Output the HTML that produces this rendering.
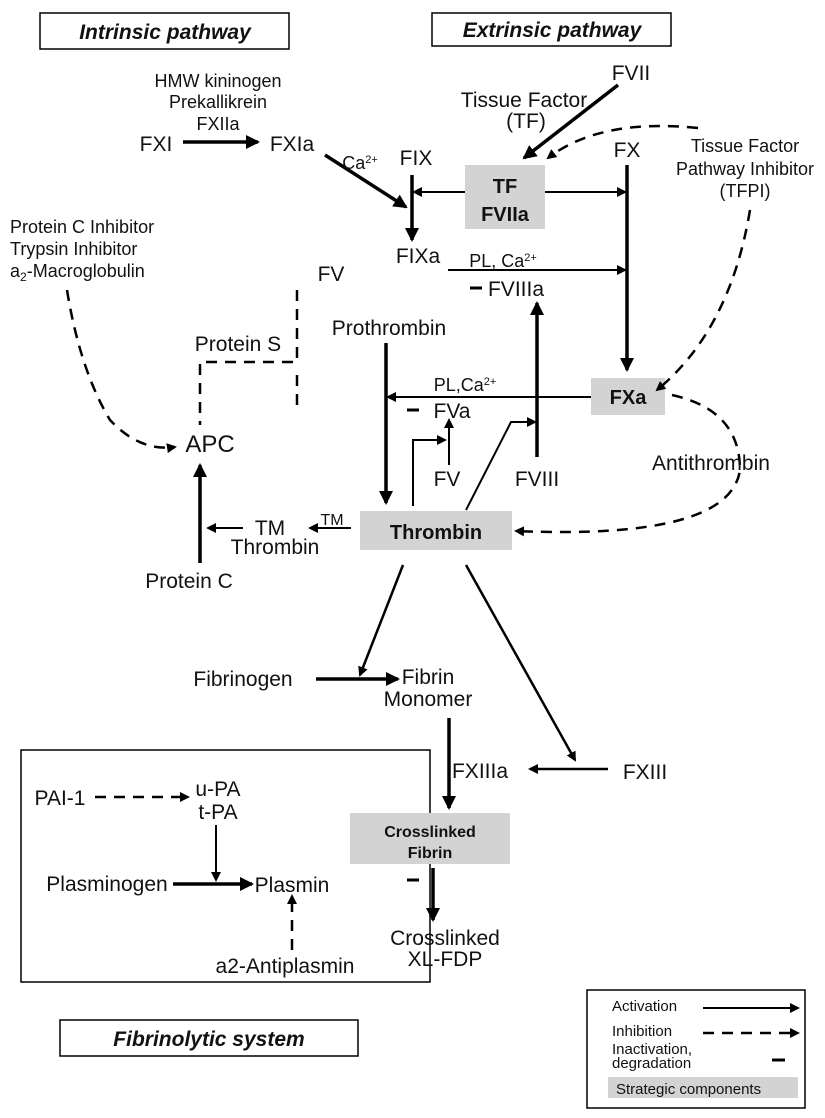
<!DOCTYPE html>
<html><head><meta charset="utf-8"><style>
html,body{margin:0;padding:0;background:#fff}
svg{display:block}
text{font-family:"Liberation Sans",Arial,sans-serif;fill:#111}
</style></head><body>
<svg width="825" height="1118" viewBox="0 0 825 1118" xmlns="http://www.w3.org/2000/svg">
<defs>
<marker id="a" markerWidth="10" markerHeight="10" refX="8" refY="5" orient="auto" markerUnits="userSpaceOnUse"><path d="M0,0 L10,5 L0,10 z" fill="#000"/></marker>
<marker id="b" markerWidth="14" markerHeight="14" refX="12" refY="7" orient="auto" markerUnits="userSpaceOnUse"><path d="M0,0 L14,7 L0,14 z" fill="#000"/></marker>
</defs>
<g fill="none" stroke="#000">
<rect x="40" y="13" width="249" height="36" stroke-width="1.5"/>
<rect x="432" y="13" width="239" height="33" stroke-width="1.5"/>
<rect x="21" y="750" width="409" height="232" stroke-width="1.5"/>
<rect x="60" y="1020" width="298" height="36" stroke-width="1.5"/>
<rect x="587" y="990" width="218" height="118" stroke-width="1.5"/>
</g>
<g fill="#d3d3d3">
<rect x="465" y="165" width="80" height="64"/>
<rect x="591" y="378" width="74" height="37"/>
<rect x="360" y="511" width="152" height="39"/>
<rect x="350" y="813" width="160" height="51"/>
<rect x="608" y="1077" width="190" height="21"/>
</g>
<g font-style="italic" font-weight="bold" font-size="21" text-anchor="middle">
<text x="165" y="39">Intrinsic pathway</text>
<text x="552" y="37">Extrinsic pathway</text>
<text x="209" y="1046">Fibrinolytic system</text>
</g>
<g fill="none" stroke="#000" stroke-width="3.5">
<line x1="618" y1="85" x2="524" y2="158" marker-end="url(#b)"/>
<line x1="627" y1="165" x2="627" y2="370" marker-end="url(#b)"/>
<line x1="412" y1="175" x2="412" y2="240" marker-end="url(#b)"/>
<line x1="183" y1="142" x2="258" y2="142" marker-end="url(#b)"/>
<line x1="325" y1="155" x2="406" y2="207" marker-end="url(#b)"/>
<line x1="537" y1="457" x2="537" y2="303" marker-end="url(#b)"/>
<line x1="386" y1="343" x2="386" y2="503" marker-end="url(#b)"/>
<line x1="200" y1="563" x2="200" y2="465" marker-end="url(#b)"/>
<line x1="316" y1="679" x2="398" y2="679" marker-end="url(#b)"/>
<line x1="449" y1="718" x2="449" y2="808" marker-end="url(#b)"/>
<line x1="433" y1="868" x2="433" y2="920" marker-end="url(#b)"/>
<line x1="173" y1="884" x2="252" y2="884" marker-end="url(#b)"/>
</g>
<g fill="none" stroke="#000" stroke-width="2">
<line x1="465" y1="192" x2="414" y2="192" marker-end="url(#a)"/>
<line x1="545" y1="192" x2="625" y2="192" marker-end="url(#a)"/>
<line x1="448" y1="270" x2="625" y2="270" marker-end="url(#a)"/>
<line x1="591" y1="397" x2="388" y2="397" marker-end="url(#a)"/>
<polyline points="413,506 413,440 445,440" marker-end="url(#a)"/>
<line x1="449" y1="465" x2="449" y2="420" marker-end="url(#a)"/>
<polyline points="466,510 511,422 535,422" marker-end="url(#a)"/>
<line x1="351" y1="528" x2="310" y2="528" marker-end="url(#a)"/>
<line x1="243" y1="528" x2="208" y2="528" marker-end="url(#a)"/>
<line x1="403" y1="565" x2="360" y2="675" stroke-width="2.5" marker-end="url(#a)"/>
<line x1="466" y1="565" x2="575" y2="760" stroke-width="2.5" marker-end="url(#a)"/>
<line x1="608" y1="769" x2="530" y2="769" stroke-width="2.5" marker-end="url(#a)"/>
<line x1="216" y1="825" x2="216" y2="880" marker-end="url(#a)"/>
<line x1="703" y1="1008" x2="798" y2="1008" marker-end="url(#a)"/>
</g>
<g fill="none" stroke="#000" stroke-width="2.5" stroke-dasharray="11,8">
<path d="M698,128 Q600,118 548,158" marker-end="url(#a)"/>
<path d="M750,210 Q730,330 657,390" marker-end="url(#a)"/>
<path d="M672,395 Q740,410 740,470 Q730,540 516,531" marker-end="url(#a)"/>
<path d="M67,290 Q80,370 110,420 Q140,452 175,447" marker-end="url(#a)"/>
<polyline points="297,290 297,362 200,362 200,425"/>
<line x1="297" y1="375" x2="297" y2="412"/>
<line x1="95" y1="797" x2="188" y2="797" marker-end="url(#a)"/>
<line x1="292" y1="950" x2="292" y2="896" marker-end="url(#a)"/>
<line x1="703" y1="1033" x2="798" y2="1033" marker-end="url(#a)"/>
</g>
<g stroke="#000" stroke-width="3">
<line x1="470" y1="288" x2="482" y2="288"/>
<line x1="407" y1="410" x2="419" y2="410"/>
<line x1="407" y1="880" x2="419" y2="880"/>
<line x1="772" y1="1060" x2="785" y2="1060"/>
</g>
<g font-size="21" text-anchor="middle">
<text x="631" y="80">FVII</text>
<text x="156" y="151">FXI</text>
<text x="292" y="151">FXIa</text>
<text x="416" y="165">FIX</text>
<text x="627" y="157">FX</text>
<text x="418" y="263">FIXa</text>
<text x="516" y="296">FVIIIa</text>
<text x="331" y="281">FV</text>
<text x="238" y="351">Protein S</text>
<text x="389" y="335">Prothrombin</text>
<text x="452" y="418">FVa</text>
<text x="447" y="486">FV</text>
<text x="537" y="486">FVIII</text>
<text x="711" y="470">Antithrombin</text>
<text x="210" y="452" font-size="24">APC</text>
<text x="270" y="535">TM</text>
<text x="275" y="554">Thrombin</text>
<text x="189" y="588">Protein C</text>
<text x="243" y="686">Fibrinogen</text>
<text x="428" y="684">Fibrin</text>
<text x="428" y="706">Monomer</text>
<text x="445" y="945">Crosslinked</text>
<text x="445" y="966">XL-FDP</text>
<text x="645" y="779">FXIII</text>
<text x="480" y="778">FXIIIa</text>
<text x="60" y="805">PAI-1</text>
<text x="218" y="796">u-PA</text>
<text x="218" y="819">t-PA</text>
<text x="107" y="891">Plasminogen</text>
<text x="292" y="892">Plasmin</text>
<text x="285" y="973">a2-Antiplasmin</text>
<text x="524" y="107">Tissue Factor</text>
<text x="526" y="128">(TF)</text>
</g>
<g font-size="18" text-anchor="middle">
<text x="218" y="87">HMW kininogen</text>
<text x="218" y="108">Prekallikrein</text>
<text x="218" y="130">FXIIa</text>
<text x="360" y="169">Ca<tspan font-size="11" dy="-6">2+</tspan></text>
<text x="503" y="267">PL, Ca<tspan font-size="11" dy="-6">2+</tspan></text>
<text x="465" y="391">PL,Ca<tspan font-size="11" dy="-6">2+</tspan></text>
<text x="332" y="525" font-size="16">TM</text>
<text x="745" y="152">Tissue Factor</text>
<text x="745" y="175">Pathway Inhibitor</text>
<text x="745" y="197">(TFPI)</text>
</g>
<g font-size="18">
<text x="10" y="233">Protein C Inhibitor</text>
<text x="10" y="255">Trypsin Inhibitor</text>
<text x="10" y="277">a<tspan font-size="12" dy="4">2</tspan><tspan dy="-4">-Macroglobulin</tspan></text>
</g>
<g font-weight="bold" text-anchor="middle">
<text x="505" y="193" font-size="20">TF</text>
<text x="505" y="221" font-size="20">FVIIa</text>
<text x="628" y="404" font-size="20">FXa</text>
<text x="436" y="539" font-size="20">Thrombin</text>
<text x="430" y="837" font-size="16">Crosslinked</text>
<text x="430" y="858" font-size="16">Fibrin</text>
</g>
<g font-size="15">
<text x="612" y="1011">Activation</text>
<text x="612" y="1036">Inhibition</text>
<text x="612" y="1054">Inactivation,</text>
<text x="612" y="1068">degradation</text>
<text x="616" y="1094">Strategic components</text>
</g>
</svg>
</body></html>
